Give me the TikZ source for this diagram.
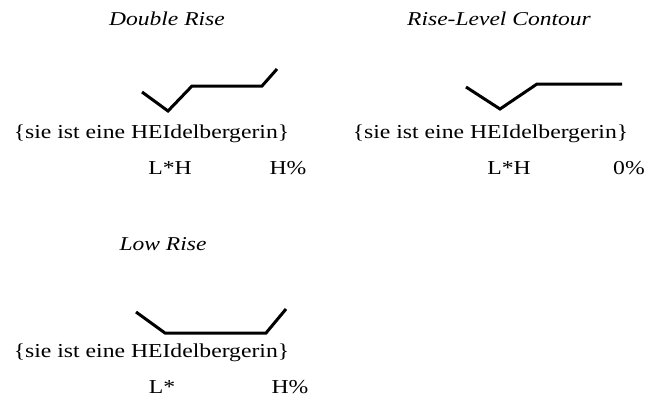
\documentclass[tikz,border=0pt]{standalone}
\usepackage{fontspec}
\setmainfont{Liberation Serif}[FakeStretch=1.2]
\usetikzlibrary{positioning}
\definecolor{ink}{HTML}{000000}

\begin{document}
\begin{tikzpicture}[x=0.75pt, y=-0.75pt]
    \tikzset{title/.style={font=\fontsize{14.7}{17}\selectfont\itshape, anchor=base, inner sep=0pt},
             sent/.style={font=\fontsize{14.8}{17}\selectfont, anchor=base, inner sep=0pt},
             tone/.style={font=\fontsize{14.8}{17}\selectfont, anchor=base, inner sep=0pt},
             contour/.style={draw=ink, line width=2.25pt}}
    \useasboundingbox (0,0) rectangle (645,403);

    % double rise
    \node[title] (dr-title) at (167,26) {Double Rise};
    \node[sent] (dr-sent) at (151.5,138) {\{sie ist eine HEIdelbergerin\}};
    \node[tone] (dr-acc) at (170,174) {L*H};
    \node[tone] (dr-bnd) at (288,174) {H\%};
    \draw[contour] (142,92) -- (168,111) -- (192,86) -- (262,86) -- (277,69);

    % rise-level contour
    \node[title] (rl-title) at (499,26) {Rise-Level Contour};
    \node[sent] (rl-sent) at (490.5,138) {\{sie ist eine HEIdelbergerin\}};
    \node[tone] (rl-acc) at (509,174) {L*H};
    \node[tone] (rl-bnd) at (629,174) {0\%};
    \draw[contour] (466,87) -- (500,109) -- (537,84) -- (622,84);

    % low rise
    \node[title] (lr-title) at (163,250) {Low Rise};
    \node[sent] (lr-sent) at (151.5,357) {\{sie ist eine HEIdelbergerin\}};
    \node[tone] (lr-acc) at (162,393) {L*};
    \node[tone] (lr-bnd) at (290,393) {H\%};
    \draw[contour] (136,312) -- (165,333) -- (266,333) -- (286,309);
  \end{tikzpicture}
\end{document}
